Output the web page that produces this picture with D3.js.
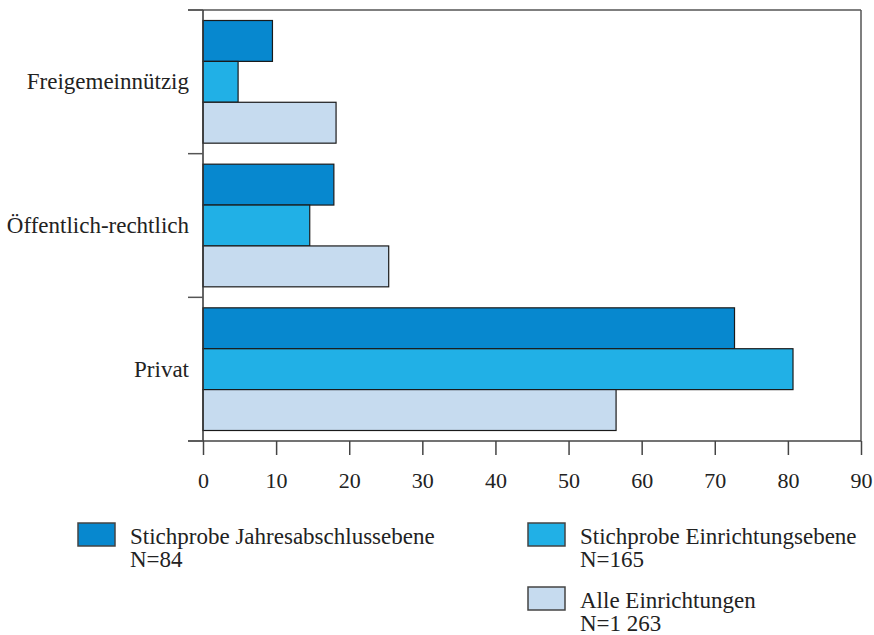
<!DOCTYPE html>
<html>
<head>
<meta charset="utf-8">
<script src="https://cdn.jsdelivr.net/npm/d3@7"></script>
<style>
  body { margin: 0; background: #fff; }
  svg text { font-family: "Liberation Serif", "Times New Roman", serif; fill: #222; }
</style>
</head>
<body>
<div id="chart"></div>
<script>
// Data
var categories = ["Freigemeinnützig", "Öffentlich-rechtlich", "Privat"];
var seriesNames = ["Stichprobe Jahresabschlussebene", "Stichprobe Einrichtungsebene", "Alle Einrichtungen"];
var seriesN = ["N=84", "N=165", "N=1 263"];
var jahresabschluss = [9.5, 17.9, 72.7];
var einrichtungsebene = [4.8, 14.6, 80.7];
var alleEinrichtungen = [18.2, 25.4, 56.5];
var xTicks = [0, 10, 20, 30, 40, 50, 60, 70, 80, 90];

var colors = ["#0788cf", "#21b0e6", "#c6dbef"];
var seriesValues = [jahresabschluss, einrichtungsebene, alleEinrichtungen];

var width = 874, height = 635;
// plot area edges (don't name these "top" - clashes with window.top)
var plotLeft = 203, plotRight = 861, plotTop = 10, plotBottom = 441;

var svg = d3.select("#chart").append("svg")
    .attr("width", width)
    .attr("height", height);

// scales
var x = d3.scaleLinear().domain([0, 90]).range([plotLeft, plotRight]);
var y = d3.scaleBand().domain(categories).range([plotTop, plotBottom]).padding(0);
var ySub = d3.scaleBand().domain(d3.range(seriesNames.length))
    .range([10.5, y.bandwidth() - 10.5]).padding(0);

// bars
var groups = svg.selectAll(".group")
    .data(categories)
    .enter().append("g")
    .attr("class", "group")
    .attr("transform", function(d) { return "translate(0," + y(d) + ")"; });

groups.selectAll("rect")
    .data(function(d, i) {
        return seriesValues.map(function(vals, s) { return { s: s, v: vals[i] }; });
    })
    .enter().append("rect")
    .attr("x", x(0))
    .attr("y", function(d) { return ySub(d.s); })
    .attr("width", function(d) { return x(d.v) - x(0); })
    .attr("height", ySub.bandwidth())
    .attr("fill", function(d) { return colors[d.s]; })
    .attr("stroke", "#1a1a1a")
    .attr("stroke-width", 1.2);

// frame (top and right)
svg.append("line").attr("x1", plotLeft - 15).attr("x2", plotRight).attr("y1", plotTop).attr("y2", plotTop)
    .attr("stroke", "#555").attr("stroke-width", 1.5);
svg.append("line").attr("x1", plotRight).attr("x2", plotRight).attr("y1", plotTop).attr("y2", plotBottom)
    .attr("stroke", "#555").attr("stroke-width", 1.5);

// x axis
var xAxis = svg.append("g")
    .attr("transform", "translate(0," + plotBottom + ")")
    .call(d3.axisBottom(x).tickValues(xTicks).tickSize(14).tickPadding(17));
xAxis.select(".domain").remove();
xAxis.selectAll(".tick line").attr("stroke", "#444").attr("stroke-width", 1.5);
xAxis.selectAll("text").attr("font-size", 22).attr("fill", "#222")
    .attr("font-family", "Liberation Serif, Times New Roman, serif");
svg.append("line").attr("x1", plotLeft - 15).attr("x2", plotRight).attr("y1", plotBottom).attr("y2", plotBottom)
    .attr("stroke", "#444").attr("stroke-width", 1.5);

// y axis: boundary ticks + labels at band centers
svg.append("line").attr("x1", plotLeft).attr("x2", plotLeft).attr("y1", plotTop).attr("y2", plotBottom)
    .attr("stroke", "#333").attr("stroke-width", 1.5);
var bounds = categories.map(function(d) { return y(d); });
bounds.push(plotBottom);
svg.selectAll(".ytick").data(bounds).enter().append("line")
    .attr("x1", plotLeft - 15).attr("x2", plotLeft)
    .attr("y1", function(d) { return d; }).attr("y2", function(d) { return d; })
    .attr("stroke", "#555").attr("stroke-width", 1.5);

svg.selectAll(".ylabel").data(categories).enter().append("text")
    .attr("x", plotLeft - 14)
    .attr("y", function(d) { return y(d) + y.bandwidth() / 2; })
    .attr("dy", "0.32em")
    .attr("text-anchor", "end")
    .attr("font-size", 23)
    .text(function(d) { return d; });

// legend
var legendPos = [[78, 523], [528, 523], [528, 587]];
var legend = svg.selectAll(".legend").data(seriesNames).enter().append("g")
    .attr("transform", function(d, i) { return "translate(" + legendPos[i][0] + "," + legendPos[i][1] + ")"; });
legend.append("rect")
    .attr("width", 37).attr("height", 23)
    .attr("fill", function(d, i) { return colors[i]; })
    .attr("stroke", "#444").attr("stroke-width", 1.5);
legend.append("text").attr("x", 52).attr("y", 21).attr("font-size", 23)
    .text(function(d) { return d; });
legend.append("text").attr("x", 52).attr("y", 44).attr("font-size", 23)
    .text(function(d, i) { return seriesN[i]; });
</script>
</body>
</html>
